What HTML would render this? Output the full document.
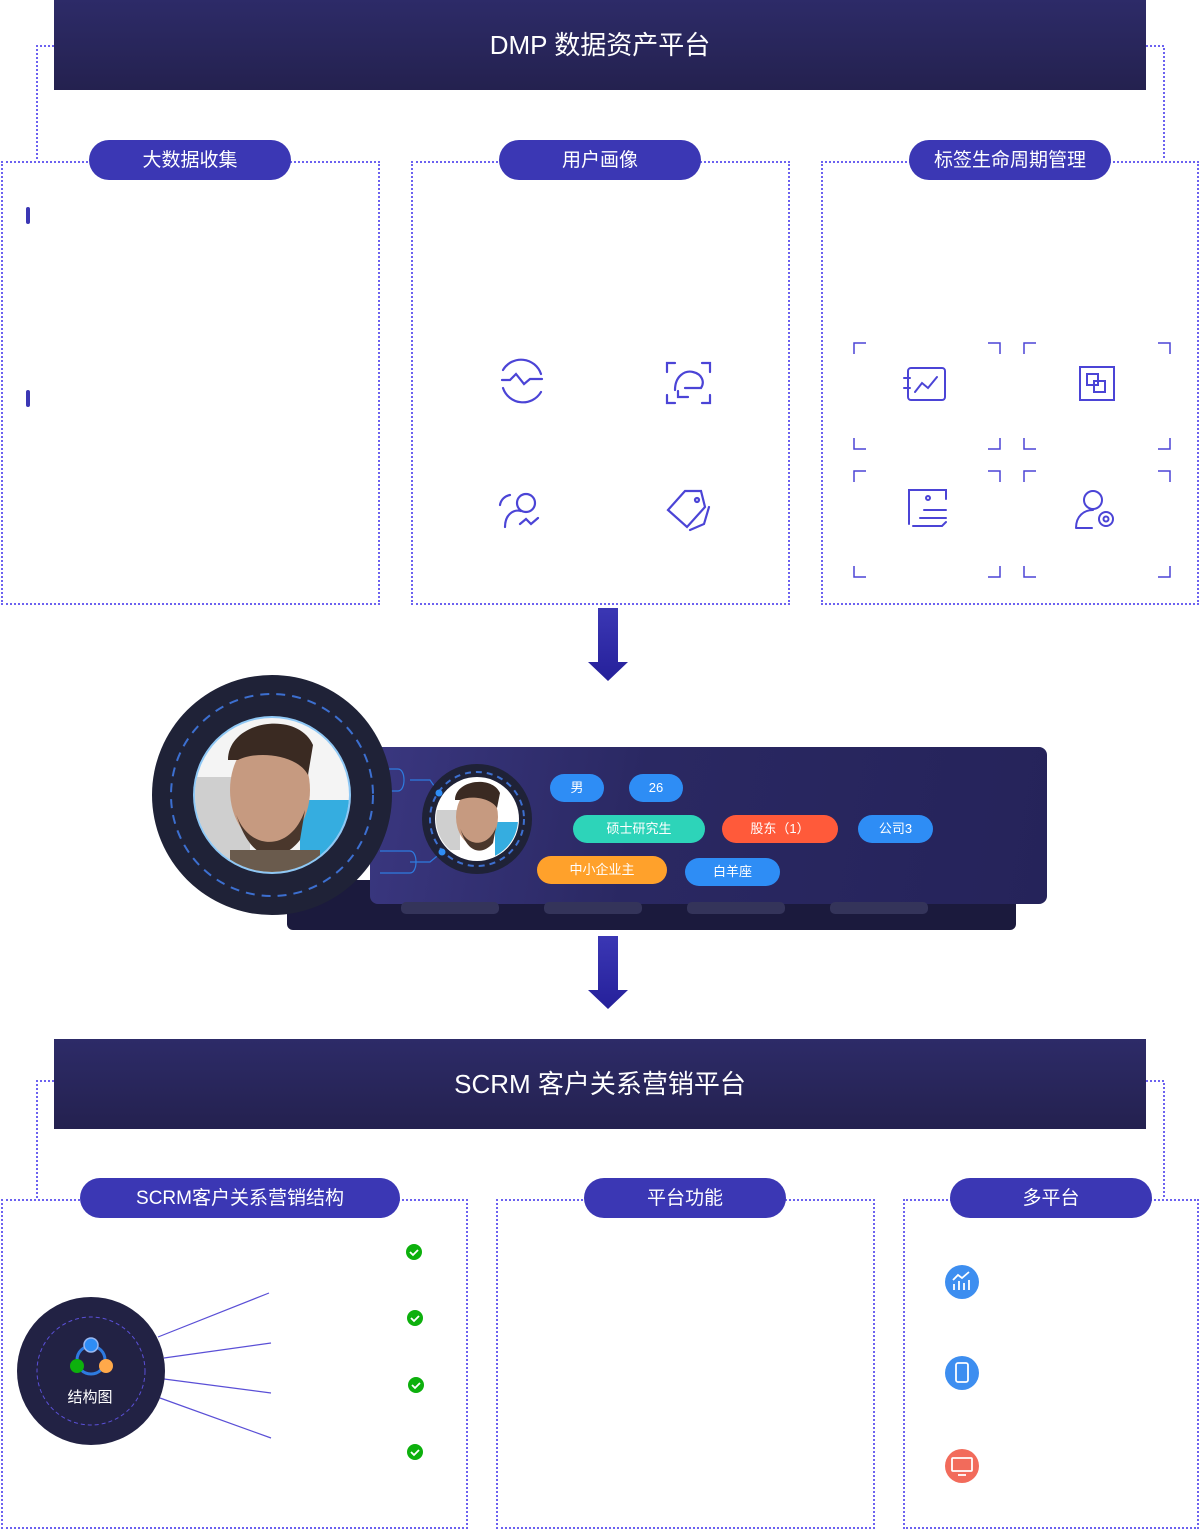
<!DOCTYPE html>
<html><head><meta charset="utf-8"><style>
body{margin:0;background:#fff;font-family:"Liberation Sans","Noto Sans CJK SC",sans-serif;}
.w{position:relative;width:1200px;height:1529px;overflow:hidden}
.a{position:absolute}
.hdr{background:linear-gradient(#2d2b68,#24214f);color:#fff;font-size:26px;text-align:center;line-height:90px;height:90px;left:54px;width:1092px}
.box{border:2px dotted #6c62f0;box-sizing:border-box}
.pill{background:#3b37b4;color:#fff;border-radius:20px;height:40px;line-height:42px;text-align:center;font-size:19px}
.tag{color:#fff;border-radius:14px;height:28px;line-height:28px;text-align:center;font-size:13px}
</style></head><body><div class="w">
<svg class="a" style="left:0;top:0" width="1200" height="1529">
<g fill="none" stroke="#6c62f0" stroke-width="2" stroke-dasharray="2 2">
<path d="M54 46H37V160M1146 46H1164V160M54 1081H37V1198M1146 1081H1164V1198"/>
</g>
</svg>
<div class="a hdr" style="top:0px">DMP 数据资产平台</div>
<div class="a hdr" style="top:1039px">SCRM 客户关系营销平台</div>

<div class="a box" style="left:1px;top:161px;width:379px;height:444px"></div>
<div class="a box" style="left:411px;top:161px;width:379px;height:444px"></div>
<div class="a box" style="left:821px;top:161px;width:378px;height:444px"></div>
<div class="a pill" style="left:89px;top:140px;width:202px">大数据收集</div>
<div class="a pill" style="left:499px;top:140px;width:202px">用户画像</div>
<div class="a pill" style="left:909px;top:140px;width:202px">标签生命周期管理</div>

<div class="a box" style="left:1px;top:1199px;width:467px;height:330px"></div>
<div class="a box" style="left:496px;top:1199px;width:379px;height:330px"></div>
<div class="a box" style="left:903px;top:1199px;width:296px;height:330px"></div>
<div class="a pill" style="left:80px;top:1178px;width:320px">SCRM客户关系营销结构</div>
<div class="a pill" style="left:584px;top:1178px;width:202px">平台功能</div>
<div class="a pill" style="left:950px;top:1178px;width:202px">多平台</div>

<div class="a" style="left:26px;top:207px;width:4px;height:17px;background:#3b37b4;border-radius:2px"></div>
<div class="a" style="left:26px;top:390px;width:4px;height:17px;background:#3b37b4;border-radius:2px"></div>

<!-- profile card -->
<div class="a" style="left:287px;top:880px;width:729px;height:50px;background:#1b1a3d;border-radius:6px"></div>
<div class="a" style="left:370px;top:747px;width:677px;height:157px;background:linear-gradient(100deg,#3a3780,#2a2862 40%,#25235a);border-radius:8px"></div>

<svg class="a" style="left:0;top:0" width="1200" height="1529">
<defs><linearGradient id="ar" x1="0" y1="0" x2="0" y2="1"><stop offset="0" stop-color="#3b37b4"/><stop offset="1" stop-color="#25209a"/></linearGradient>
<clipPath id="c1"><circle cx="272" cy="795" r="77"/></clipPath>
<clipPath id="c2"><circle cx="477" cy="819" r="41"/></clipPath></defs>
<path d="M598 608h20v54h10l-20 19-20-19h10z" fill="url(#ar)"/>
<path d="M598 936h20v54h10l-20 19-20-19h10z" fill="url(#ar)"/>
<g fill="#34345a"><rect x="401" y="902" width="98" height="12" rx="5"/><rect x="544" y="902" width="98" height="12" rx="5"/><rect x="687" y="902" width="98" height="12" rx="5"/><rect x="830" y="902" width="98" height="12" rx="5"/></g>
<path d="M388 769h10c8 0 8 22 0 22h-10M380 851h30c8 0 8 22 0 22h-30M410 780h20l9 13M410 862h20l12-10" fill="none" stroke="#2e7be0" stroke-width="1.2"/>
<circle cx="272" cy="795" r="120" fill="#1f2237"/>
<circle cx="272" cy="795" r="101" fill="none" stroke="#3c6fd0" stroke-width="2" stroke-dasharray="9 7"/>
<circle cx="272" cy="795" r="79" fill="#8fc8f5"/>
<g clip-path="url(#c1)"><rect x="190" y="715" width="170" height="170" fill="#f4f4f4"/><rect x="190" y="777" width="60" height="100" fill="#cfcfcf"/><rect x="300" y="800" width="60" height="80" fill="#35ade0"/>
<ellipse cx="270" cy="790" rx="40" ry="55" fill="#c69a80"/><path d="M228 760c0-40 70-50 85-15l-5 30c-10-20-50-25-70-15z" fill="#3a2a22"/><path d="M235 810c10 40 55 45 70 0l-5 30c-20 25-50 25-65-30z" fill="#4a372c"/><rect x="230" y="850" width="90" height="40" fill="#6a5b4d"/></g>
<circle cx="477" cy="819" r="55" fill="#1f2237"/>
<circle cx="477" cy="819" r="47" fill="none" stroke="#3c6fd0" stroke-width="2" stroke-dasharray="6 5"/>
<circle cx="477" cy="819" r="42" fill="#fff"/>
<g clip-path="url(#c2)"><rect x="435" y="810" width="25" height="40" fill="#cfcfcf"/><rect x="495" y="822" width="30" height="40" fill="#35ade0"/><ellipse cx="477" cy="817" rx="21" ry="29" fill="#c69a80"/><path d="M455 800c0-20 37-25 45-7l-3 15c-6-10-26-13-37-8z" fill="#3a2a22"/><path d="M460 827c5 20 28 22 36 0l-3 16c-10 12-26 12-33-16z" fill="#4a372c"/></g>
<circle cx="439" cy="793" r="3.5" fill="#2e8df5"/><circle cx="442" cy="852" r="3.5" fill="#2e8df5"/>

<g fill="none" stroke="#4b44d6" stroke-width="2.2" stroke-linecap="round">
<path d="M503 370a21 21 0 0 1 38 4M541 392a21 21 0 0 1-38-4M502 380h8l6-6 8 10 6-5h12"/>
<path d="M667 372v-9h8M702 363h8v9M667 395v8h8M702 403h8v-8M675 390c0-14 10-20 18-18 9 2 12 10 8 16h-16M678 391v6h10"/>
<circle cx="526" cy="503" r="9"/><path d="M505 527c0-12 8-18 16-16M500 505a12 12 0 0 1 10-10M520 524l6-5 5 5 7-6"/>
<path d="M668 510l17-19h16l4 16-18 20z"/><path d="M690 530l14-6 5-17"/><circle cx="697" cy="500" r="2"/>
</g>
<g fill="none" stroke="#4b44d6" stroke-width="1.5">
<path d="M854 354v-11h12M988 343h12v11M854 438v11h12M988 449h12v-11"/>
<path d="M1024 354v-11h12M1158 343h12v11M1024 438v11h12M1158 449h12v-11"/>
<path d="M854 482v-11h12M988 471h12v11M854 566v11h12M988 577h12v-11"/>
<path d="M1024 482v-11h12M1158 471h12v11M1024 566v11h12M1158 577h12v-11"/>
</g>
<g fill="none" stroke="#4b44d6" stroke-width="2" stroke-linecap="round">
<rect x="908" y="368" width="37" height="32" rx="3"/><path d="M915 392l7-9 6 5 9-11"/><path d="M904 378h6M904 388h6"/>
<rect x="1080" y="367" width="34" height="33"/><rect x="1087" y="374" width="11" height="11"/><rect x="1094" y="381" width="11" height="11"/>
<path d="M909 524v-34h37v9M920 518h26M924 510h22M946 522l-4 4H913" /><circle cx="928" cy="498" r="2"/>
<circle cx="1093" cy="500" r="9"/><path d="M1076 528c0-12 8-18 17-18M1076 528h16"/><circle cx="1106" cy="519" r="7"/><circle cx="1106" cy="519" r="2.5"/>
</g>

<g stroke="#5a4fd6" stroke-width="1.2"><path d="M158 1337l111-44M164 1358l107-15M164 1379l107 14M160 1398l111 40"/></g>
<circle cx="91" cy="1371" r="74" fill="#222244"/>
<circle cx="91" cy="1371" r="54" fill="none" stroke="#5a4fd6" stroke-width="1" stroke-dasharray="4 3"/>
<circle cx="91" cy="1360" r="14" fill="none" stroke="#2e7be0" stroke-width="3"/>
<circle cx="91" cy="1345" r="7" fill="#2e8df5" stroke="#9ab8f0" stroke-width="1.5"/><circle cx="77" cy="1366" r="7" fill="#0db00d"/><circle cx="106" cy="1366" r="7" fill="#ffa94a"/>
<text x="90" y="1402" fill="#fff" font-size="15" text-anchor="middle" font-family="Liberation Sans,Noto Sans CJK SC,sans-serif">结构图</text>
<g fill="#0db00d"><circle cx="414" cy="1252" r="8"/><circle cx="415" cy="1318" r="8"/><circle cx="416" cy="1385" r="8"/><circle cx="415" cy="1452" r="8"/></g>
<g fill="none" stroke="#fff" stroke-width="1.8"><path d="M410 1252l3 3 5-5M411 1318l3 3 5-5M412 1385l3 3 5-5M411 1452l3 3 5-5"/></g>
<circle cx="962" cy="1282" r="17" fill="#3d8ef0"/><circle cx="962" cy="1373" r="17" fill="#3d8ef0"/><circle cx="962" cy="1466" r="17" fill="#f26b5b"/>
<g fill="none" stroke="#fff" stroke-width="1.8"><path d="M954 1290v-6M959 1290v-9M964 1290v-7M969 1290v-10M953 1280l5-5 4 3 7-6"/><rect x="956" y="1363" width="12" height="19" rx="2"/><rect x="952" y="1458" width="20" height="13" rx="1"/><path d="M958 1475h8"/></g>
</svg>

<div class="a tag" style="left:550px;top:774px;width:54px;background:#2e8df5">男</div>
<div class="a tag" style="left:629px;top:774px;width:54px;background:#2e8df5">26</div>
<div class="a tag" style="left:573px;top:815px;width:132px;background:#2dd4b9">硕士研究生</div>
<div class="a tag" style="left:722px;top:815px;width:116px;background:#ff5a3a">股东（1）</div>
<div class="a tag" style="left:858px;top:815px;width:75px;background:#2e8df5">公司3</div>
<div class="a tag" style="left:537px;top:856px;width:130px;background:#ffa12b">中小企业主</div>
<div class="a tag" style="left:685px;top:858px;width:95px;background:#2e8df5">白羊座</div>
</div></body></html>
